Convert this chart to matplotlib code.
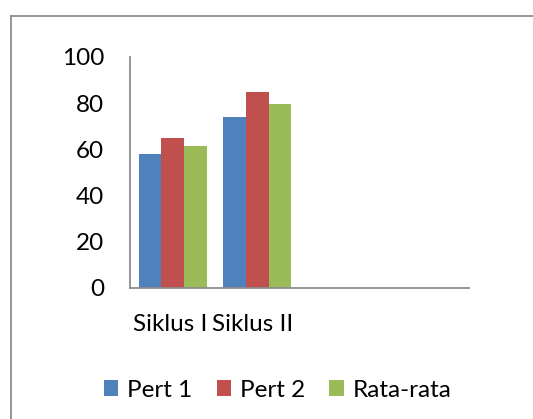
import matplotlib
matplotlib.use("Agg")
import matplotlib.pyplot as plt
from matplotlib.patches import Patch
from matplotlib.lines import Line2D
import numpy as np

categories = ["Siklus I", "Siklus II", "", ""]
series_names = ["Pert 1", "Pert 2", "Rata-rata"]
pert1 = [58, 74, None, None]
pert2 = [65, 85, None, None]
rata = [61.5, 79.5, None, None]
colors = ["#4F81BD", "#C0504D", "#9BBB59"]
yticks = [0, 20, 40, 60, 80, 100]

plt.rcParams['font.family'] = ['Lato', 'DejaVu Sans']
fs = 17.5

fig = plt.figure(figsize=(5.33, 4.19), dpi=100)
ax = fig.add_axes([0.2445, 0.3134, 0.6355, 0.5506])

n = len(categories)
x = np.arange(n)
bw = 0.8 / 3
for i, (vals, c) in enumerate(zip([pert1, pert2, rata], colors)):
    xs = [xi for xi, v in zip(x, vals) if v is not None]
    vs = [v for v in vals if v is not None]
    ax.bar(np.array(xs) + (i - 1) * bw, vs, width=bw, color=c, align='center')

ax.set_xlim(-0.5, n - 0.5)
ax.set_ylim(0, 100)
ax.set_yticks(yticks)
ax.set_yticklabels([str(t) for t in yticks], fontsize=fs)
ax.set_xticks([-0.03, 0.95])
ax.set_xticklabels(categories[:2], fontsize=fs)
ax.tick_params(axis='x', length=0, pad=19)
ax.tick_params(axis='y', length=0, pad=19)
for s in ['top', 'right']:
    ax.spines[s].set_visible(False)
for s in ['left', 'bottom']:
    ax.spines[s].set_color('#8C8C8C')
    ax.spines[s].set_linewidth(1.3)

handles = [Patch(facecolor=c, edgecolor='none') for c in colors]
fig.legend(handles, series_names, loc='center', bbox_to_anchor=(277.5 / 533, 1 - 390 / 419),
           ncol=3, frameon=False, fontsize=fs, handlelength=0.6, handleheight=0.6,
           handletextpad=0.35, columnspacing=1.0, borderpad=0)

# chart border (top and left edges visible)
bx = 10.5 / 533
by = 1 - 16.5 / 419
fig.add_artist(Line2D([bx, 1.01], [by, by], transform=fig.transFigure, color='#8C8C8C', linewidth=1.3))
fig.add_artist(Line2D([bx, bx], [-0.01, by], transform=fig.transFigure, color='#8C8C8C', linewidth=1.3))

fig.savefig("out.png", dpi=100)
